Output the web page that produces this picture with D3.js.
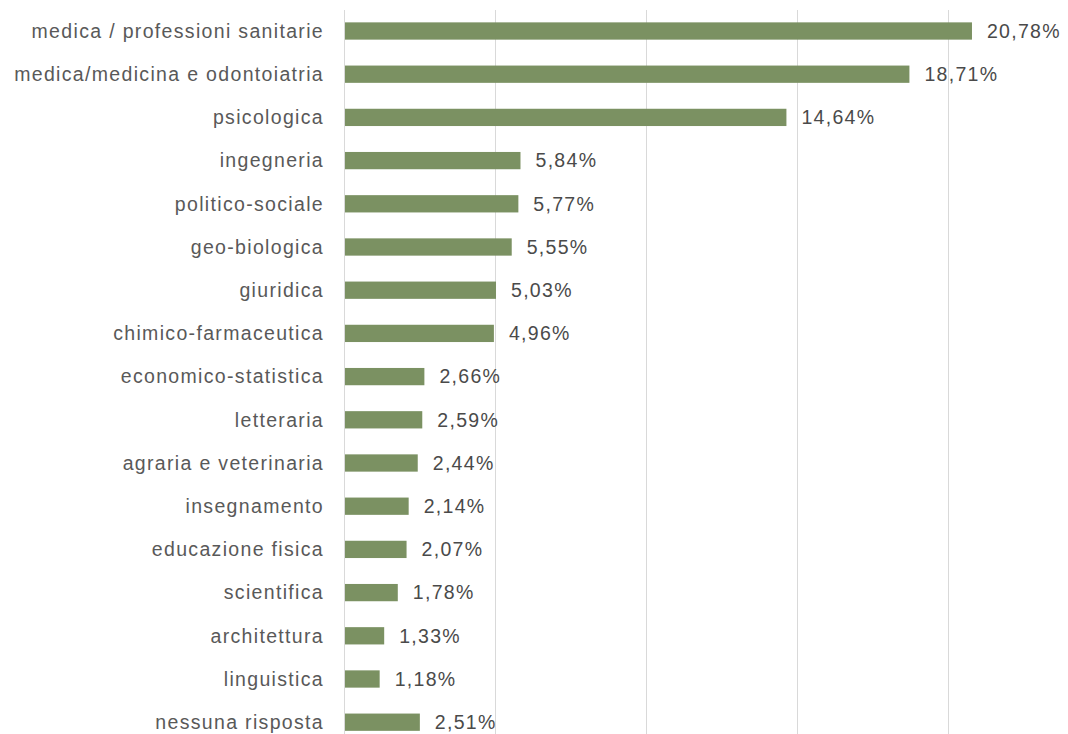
<!DOCTYPE html>
<html lang="en">
  <head>
    <meta charset="utf-8">
    <title>Aree disciplinari</title>
    <script src="https://d3js.org/d3.v7.min.js"></script>
    <style>
      body { margin: 0; background: #fff; }
      text { font-family: "Liberation Sans", Arial, sans-serif; }
    </style>
  </head>
  <body>
    <script type="text/javascript">

      var w = 1068;
      var h = 734;

      var categories = ["medica / professioni sanitarie", "medica/medicina e odontoiatria", "psicologica",
                        "ingegneria", "politico-sociale", "geo-biologica", "giuridica",
                        "chimico-farmaceutica", "economico-statistica", "letteraria",
                        "agraria e veterinaria", "insegnamento", "educazione fisica",
                        "scientifica", "architettura", "linguistica", "nessuna risposta"];
      var values = [20.78, 18.71, 14.64, 5.84, 5.77, 5.55, 5.03, 4.96, 2.66, 2.59,
                    2.44, 2.14, 2.07, 1.78, 1.33, 1.18, 2.51];
      var gridTicks = [0, 5, 10, 15, 20, 25];

      var dataset = categories.map((c, i) => ({cat: c, val: values[i]}));

      var svg = d3.select("body")
                  .append("svg")
                  .attr("width", w)
                  .attr("height", h);

      var x_scale = d3.scaleLinear()
                      .domain([0, 25])
                      .range([344, 344 + 25 * 30.22]);

      var y_scale = d3.scaleBand()
                      .domain(categories)
                      .range([9.4, 743.8])
                      .paddingInner(0.6)
                      .paddingOuter(0.3);

      // vertical gridlines
      svg.selectAll("line.grid")
         .data(gridTicks)
         .enter()
         .append("line")
         .attr("class", "grid")
         .attr("x1", d => Math.round(x_scale(d)) + 0.5)
         .attr("x2", d => Math.round(x_scale(d)) + 0.5)
         .attr("y1", 10)
         .attr("y2", h)
         .attr("stroke", "#d9d9d9")
         .attr("stroke-width", 1);

      svg.selectAll("rect.bar")
         .data(dataset)
         .enter()
         .append("rect")
         .attr("class", "bar")
         .attr("x", x_scale(0) + 1)
         .attr("y", d => y_scale(d.cat))
         .attr("width", d => x_scale(d.val) - x_scale(0) - 1)
         .attr("height", y_scale.bandwidth())
         .attr("fill", "#7b9162");

      // category labels
      svg.selectAll("text.cat")
         .data(dataset)
         .enter()
         .append("text")
         .attr("class", "cat")
         .attr("x", 324)
         .attr("y", d => y_scale(d.cat) + y_scale.bandwidth() / 2)
         .attr("dy", "0.35em")
         .attr("text-anchor", "end")
         .attr("font-size", "19.5px")
         .attr("letter-spacing", "1.33px")
         .attr("fill", "#595959")
         .text(d => d.cat);

      // value labels
      svg.selectAll("text.val")
         .data(dataset)
         .enter()
         .append("text")
         .attr("class", "val")
         .attr("x", d => x_scale(d.val) + 15)
         .attr("y", d => y_scale(d.cat) + y_scale.bandwidth() / 2)
         .attr("dy", "0.35em")
         .attr("font-size", "19.5px")
         .attr("letter-spacing", "1.3px")
         .attr("fill", "#4a4a4a")
         .text(d => d3.format(".2f")(d.val).replace(".", ",") + "%");

    </script>
  </body>
</html>
